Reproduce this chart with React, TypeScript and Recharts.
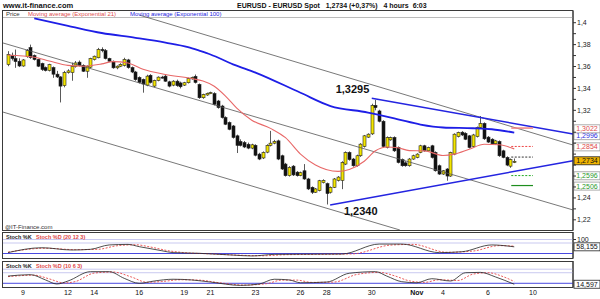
import React from 'react'
import {
  Bar,
  ComposedChart,
  Line,
  ReferenceDot,
  ReferenceLine,
  XAxis,
  YAxis,
} from 'recharts'

const FONT = '"Liberation Sans", Arial, Helvetica, sans-serif'
const FIRST = 2
const X_DOMAIN = [2 / 3, 152 + 2 / 3]

// 4h candles, index 2 = first candle (Oct 8 evening)
const opens = [
  1.3618, 1.3703, 1.3673, 1.3648, 1.3605, 1.369, 1.3773, 1.37, 1.3664, 1.3627,
  1.359, 1.3564, 1.359, 1.353, 1.3505, 1.3425, 1.3545, 1.3545, 1.36, 1.364,
  1.361, 1.3557, 1.3594, 1.3664, 1.368, 1.3755, 1.3745, 1.3673, 1.3648, 1.3588,
  1.3603, 1.361, 1.366, 1.359, 1.355, 1.35, 1.3482, 1.343, 1.352, 1.3421,
  1.3473, 1.3503, 1.3512, 1.346, 1.343, 1.3466, 1.345, 1.343, 1.3452, 1.3487,
  1.351, 1.3436, 1.3315, 1.334, 1.3355, 1.3352, 1.3285, 1.3239, 1.3134, 1.3088,
  1.3057, 1.2967, 1.2915, 1.2905, 1.289, 1.2855, 1.288, 1.28, 1.2765, 1.2818,
  1.288, 1.29, 1.2921, 1.2785, 1.2709, 1.2603, 1.269, 1.2635, 1.2605, 1.2648,
  1.2573, 1.2497, 1.2452, 1.2467, 1.254, 1.253, 1.2452, 1.2497, 1.256, 1.256,
  1.2709, 1.2815, 1.2755, 1.2694, 1.2785, 1.287, 1.2955, 1.2985, 1.3245, 1.3194,
  1.31, 1.2861, 1.293, 1.2952, 1.2861, 1.275, 1.272, 1.2694, 1.2755, 1.277,
  1.2815, 1.2876, 1.283, 1.2876, 1.2815, 1.2694, 1.2618, 1.2664, 1.26, 1.28,
  1.296, 1.3, 1.299, 1.2967, 1.287, 1.296, 1.3043, 1.308, 1.2955, 1.2936,
  1.2895, 1.2915, 1.283, 1.277, 1.269, 1.2725,
]
const highs = [
  1.374, 1.3727, 1.3755, 1.3675, 1.3668, 1.376, 1.38, 1.371, 1.367, 1.3635,
  1.36, 1.3625, 1.36, 1.356, 1.3512, 1.356, 1.3575, 1.3636, 1.365, 1.3655,
  1.362, 1.361, 1.368, 1.37, 1.377, 1.3775, 1.376, 1.368, 1.3655, 1.361,
  1.363, 1.368, 1.367, 1.36, 1.356, 1.351, 1.349, 1.3525, 1.353, 1.348,
  1.351, 1.3515, 1.3525, 1.347, 1.3475, 1.348, 1.3462, 1.346, 1.3498, 1.3508,
  1.3527, 1.3445, 1.3352, 1.3362, 1.337, 1.3365, 1.3295, 1.325, 1.3145, 1.3098,
  1.3066, 1.2978, 1.2935, 1.292, 1.2905, 1.2895, 1.289, 1.2812, 1.2825, 1.289,
  1.3012, 1.293, 1.2932, 1.2795, 1.272, 1.269, 1.27, 1.2645, 1.264, 1.2709,
  1.2583, 1.2505, 1.249, 1.2565, 1.257, 1.254, 1.2505, 1.2582, 1.26, 1.2735,
  1.2825, 1.2825, 1.2765, 1.2795, 1.29, 1.2975, 1.299, 1.326, 1.3295, 1.3205,
  1.311, 1.2962, 1.296, 1.2962, 1.287, 1.276, 1.2735, 1.2765, 1.2795, 1.2808,
  1.2885, 1.2885, 1.2868, 1.2885, 1.2825, 1.2705, 1.2655, 1.2672, 1.2822, 1.299,
  1.3005, 1.301, 1.3, 1.2975, 1.2985, 1.3052, 1.3148, 1.309, 1.2965, 1.2945,
  1.293, 1.2925, 1.284, 1.278, 1.276, 1.276,
]
const lows = [
  1.3603, 1.3655, 1.3588, 1.3595, 1.3598, 1.368, 1.367, 1.3655, 1.3595, 1.356,
  1.3555, 1.3555, 1.3497, 1.3495, 1.3272, 1.341, 1.3535, 1.347, 1.359, 1.36,
  1.355, 1.3497, 1.3585, 1.3655, 1.3675, 1.373, 1.3665, 1.364, 1.358, 1.3575,
  1.3595, 1.36, 1.358, 1.354, 1.347, 1.3445, 1.3361, 1.342, 1.3445, 1.341,
  1.3465, 1.349, 1.346, 1.341, 1.342, 1.3415, 1.34, 1.3422, 1.3445, 1.348,
  1.3445, 1.3305, 1.3305, 1.3332, 1.3348, 1.3245, 1.3215, 1.3125, 1.3065, 1.3018,
  1.2942, 1.281, 1.287, 1.2855, 1.2845, 1.2845, 1.278, 1.2745, 1.2755, 1.2808,
  1.287, 1.289, 1.2745, 1.2655, 1.2595, 1.2595, 1.26, 1.2595, 1.2598, 1.2565,
  1.2472, 1.2436, 1.2445, 1.246, 1.2532, 1.234, 1.244, 1.249, 1.255, 1.248,
  1.27, 1.274, 1.2685, 1.2685, 1.2775, 1.286, 1.2948, 1.2975, 1.32, 1.309,
  1.286, 1.2852, 1.2922, 1.282, 1.2715, 1.2685, 1.2685, 1.2685, 1.2748, 1.2762,
  1.2808, 1.2822, 1.2822, 1.276, 1.264, 1.261, 1.261, 1.2557, 1.2592, 1.279,
  1.2952, 1.2965, 1.2928, 1.2852, 1.2862, 1.2952, 1.3035, 1.293, 1.2902, 1.2888,
  1.2888, 1.2775, 1.2762, 1.269, 1.2675, 1.2718,
]
const closes = [
  1.3709, 1.3673, 1.3645, 1.3605, 1.366, 1.3745, 1.3682, 1.3664, 1.3603, 1.3573,
  1.3564, 1.3618, 1.353, 1.3505, 1.3421, 1.3545, 1.356, 1.36, 1.3633, 1.361,
  1.3557, 1.3603, 1.3673, 1.3694, 1.3755, 1.3745, 1.3673, 1.3648, 1.3588, 1.3603,
  1.362, 1.3664, 1.359, 1.355, 1.348, 1.3455, 1.344, 1.3512, 1.3455, 1.3473,
  1.3503, 1.3497, 1.3466, 1.3421, 1.3466, 1.3425, 1.3415, 1.3452, 1.349, 1.35,
  1.3455, 1.3315, 1.3345, 1.3355, 1.3361, 1.3255, 1.3225, 1.3134, 1.3073, 1.3027,
  1.2952, 1.288, 1.288, 1.2865, 1.2855, 1.2885, 1.279, 1.2755, 1.2815, 1.288,
  1.29, 1.2915, 1.2755, 1.2664, 1.2603, 1.2679, 1.261, 1.2603, 1.263, 1.2573,
  1.2482, 1.2452, 1.2482, 1.2557, 1.256, 1.244, 1.2497, 1.2573, 1.259, 1.2725,
  1.2815, 1.275, 1.2694, 1.2785, 1.2891, 1.2967, 1.2982, 1.3245, 1.3225, 1.31,
  1.287, 1.2952, 1.295, 1.283, 1.2724, 1.2694, 1.2694, 1.2755, 1.2785, 1.28,
  1.2876, 1.283, 1.286, 1.277, 1.2648, 1.2618, 1.2648, 1.26, 1.2815, 1.2982,
  1.2997, 1.2975, 1.2936, 1.2861, 1.2975, 1.3043, 1.308, 1.294, 1.291, 1.2895,
  1.2921, 1.2785, 1.277, 1.27, 1.275, 1.2734,
]

// moving averages, read at sample candles
const ema21At = [2, 9, 13, 18, 22, 27, 30, 34, 38, 44, 51, 54, 57, 60, 63, 67, 72, 76, 80, 84, 90, 93, 97, 100, 103, 106, 109, 113, 118, 121, 125, 129, 133, 137]
const ema21 = [1.3703, 1.3685, 1.365, 1.361, 1.3603, 1.3624, 1.3645, 1.3632, 1.3575, 1.3527, 1.349, 1.3467, 1.342, 1.333, 1.322, 1.311, 1.3035, 1.295, 1.28, 1.27, 1.2642, 1.266, 1.2735, 1.283, 1.2865, 1.2858, 1.2832, 1.283, 1.2788, 1.28, 1.2845, 1.289, 1.2885, 1.2848]
const ema100At = [9, 18, 27, 36, 44, 50, 53, 56, 62, 68, 80, 88, 98, 100, 106, 112, 118, 126, 131, 137]
const ema100 = [1.404, 1.3972, 1.3906, 1.3862, 1.3818, 1.3777, 1.3745, 1.371, 1.362, 1.3545, 1.336, 1.3239, 1.318, 1.3165, 1.3118, 1.307, 1.3043, 1.3036, 1.3027, 1.2997]

// stochastics (20 12 3) and (10 6 3)
const k1At = [2, 11, 19, 24, 29, 34, 37, 43, 46, 53, 62, 67, 73, 80, 91, 101, 107, 117, 123, 131, 137]
const k1 = [25, 53, 40, 44, 69, 72, 59, 36, 25, 21, 11, 6, 15, 16, 17, 74, 74, 25, 30, 69, 58.155]
const d1At = [2, 12, 20, 26, 31, 36, 40, 45, 49, 56, 64, 70, 76, 84, 94, 104, 110, 119, 126, 133, 137]
const d1 = [28, 50, 42, 44, 64, 70, 57, 35, 25, 18, 10, 7, 13, 15, 18, 68, 72, 27, 34, 65, 62]
const k2At = [2, 8, 12, 15, 18, 24, 29, 33, 37, 41, 46, 51, 56, 64, 69, 73, 77, 80, 87, 93, 100, 103, 107, 111, 115, 120, 124, 128, 132, 137]
const k2 = [61, 69, 39, 16, 33, 86, 86, 48, 20, 33, 43, 39, 27, 8, 16, 43, 39, 23, 27, 77, 86, 61, 29, 23, 46, 33, 80, 82, 56, 14.597]
const d2At = [2, 9, 13, 17, 20, 25, 30, 35, 39, 43, 48, 53, 58, 65, 71, 75, 79, 83, 89, 95, 101, 105, 109, 113, 117, 122, 126, 130, 134, 137]
const d2 = [58, 66, 45, 22, 30, 78, 84, 55, 26, 30, 40, 38, 24, 10, 18, 38, 38, 25, 27, 70, 82, 63, 34, 25, 40, 36, 72, 80, 58, 30]

const dayTicks = [6, 18, 25, 37, 49, 56, 68, 80, 87, 99, 111, 118, 130, 142]
const dayLabels = ['9', '12', '14', '16', '19', '21', '23', '26', '28', '30', 'Nov', '4', '6', '10']

const priceTicks = [1.22, 1.23, 1.24, 1.25, 1.26, 1.27, 1.28, 1.29, 1.3, 1.31, 1.32, 1.33, 1.34, 1.35, 1.36, 1.37, 1.38, 1.39, 1.4]
const priceLabels = ['1,22', '1,24', '1,32', '1,34', '1,36', '1,38', '1,4']

// hand-drawn lines: [candle index, price]
const channelTop = [[37.2, 1.4068], [152.67, 1.2883]]
const channelMid = [[0.67, 1.3815], [152.67, 1.229]]
const channelLow = [[0.67, 1.3184], [106.5, 1.2107]]
const resistance = [[99, 1.331], [152.67, 1.2984]]
const support = [[87.9, 1.2335], [152.67, 1.274]]

const levelValues = [1.3038, 1.287, 1.2773, 1.2604, 1.2513]
const levelFrom = 136.2
const levelTo = 142

const boxValues = [1.2968, 1.3031, 1.2866, 1.2739, 1.2602, 1.2508]
const boxTexts = ['1,2996', '1,3022', '1,2854', '1,2734', '1,2596', '1,2506']
const boxLooks = [
  { color: '#2a2ae0', fill: '#fff', border: '#999' },
  { color: '#e04848', fill: '#fff', border: '#999' },
  { color: '#e04848', fill: '#fff', border: '#999' },
  { color: '#111', fill: '#f0b400', border: '#222' },
  { color: '#2a9a2a', fill: '#fff', border: '#999' },
  { color: '#2a9a2a', fill: '#fff', border: '#999' },
]

type Row = { i: number; o: number; h: number; l: number; c: number; [key: string]: number | undefined }

const rows: Row[] = opens.map((o, k) => ({ i: FIRST + k, o, h: highs[k], l: lows[k], c: closes[k] }))

function attach(key: string, at: number[], vals: number[]) {
  at.forEach((idx, n) => {
    rows[idx - FIRST][key] = vals[n]
  })
}
attach('ema21', ema21At, ema21)
attach('ema100', ema100At, ema100)
attach('k1', k1At, k1)
attach('d1', d1At, d1)
attach('k2', k2At, k2)
attach('d2', d2At, d2)

const seg = (pts: number[][]) => pts.map(([x, y]) => ({ x, y }))

function Candle(props: any) {
  const { x, y, width, height, payload } = props
  if (!payload || height == null || Number.isNaN(y)) return <g />
  const { o, h, l, c } = payload
  const top = Math.min(y, y + height)
  const span = Math.abs(height)
  const k = h > l ? span / (h - l) : 0
  const cx = Math.round(x + width / 2) + 0.5
  const bodyTop = top + (h - Math.max(o, c)) * k
  const bodyH = Math.max(1, Math.abs(c - o) * k)
  const up = c > o
  return (
    <g>
      <line x1={cx} x2={cx} y1={top} y2={top + span} stroke="#5a5a5a" strokeWidth={1} />
      <rect
        x={cx - 1.5}
        y={bodyTop}
        width={3}
        height={bodyH}
        fill={up ? '#f4e600' : '#111'}
        stroke="#222"
        strokeWidth={0.6}
      />
    </g>
  )
}

function AxisBox({ viewBox, text, color, fill, border }: any) {
  if (!viewBox) return null
  const x = viewBox.x + viewBox.width + 1
  const y = viewBox.y
  return (
    <g>
      <rect x={x} y={y - 4} width={26} height={8} fill={fill} stroke={border} strokeWidth={0.8} />
      <text x={x + 13} y={y + 2.6} textAnchor="middle" fontSize={7} fontFamily={FONT} fill={color}>
        {text}
      </text>
    </g>
  )
}

function DayTick({ x, y, payload }: any) {
  const label = dayLabels[dayTicks.indexOf(payload.value)] ?? ''
  return (
    <text
      x={x}
      y={y + 7.5}
      textAnchor="middle"
      fontSize={7}
      fontWeight={label === 'Nov' ? 'bold' : 'normal'}
      fontFamily={FONT}
      fill="#111"
    >
      {label}
    </text>
  )
}

const priceLabel = (v: number) => {
  const s = v.toFixed(2).replace(/0$/, '').replace('.', ',')
  return priceLabels.includes(s) ? s : ''
}

function StochPanel({
  kKey,
  dKey,
  domain,
  ticks,
  boxValue,
  boxText,
  height,
  days,
}: {
  kKey: string
  dKey: string
  domain: number[]
  ticks: number[]
  boxValue: number
  boxText: string
  height: number
  days?: boolean
}) {
  return (
    <ComposedChart width={600} height={height} data={rows} margin={{ top: 0, right: 0, bottom: 0, left: 3 }}>
      <XAxis
        type="number"
        dataKey="i"
        domain={X_DOMAIN}
        allowDataOverflow
        hide={!days}
        ticks={dayTicks}
        interval={0}
        height={12}
        tickSize={0}
        tickMargin={0}
        axisLine={false}
        tick={<DayTick />}
      />
      <YAxis
        orientation="right"
        width={27}
        domain={domain}
        allowDataOverflow
        ticks={ticks}
        tickSize={3}
        tickMargin={1}
        axisLine={{ stroke: '#333' }}
        tickLine={{ stroke: '#333' }}
        tick={{ fontSize: 7, fill: '#222', fontFamily: FONT }}
      />
      <ReferenceLine y={100} stroke="#c9c9f0" strokeWidth={1} />
      <ReferenceLine y={80} stroke="#c9c9f0" strokeWidth={1} />
      <ReferenceLine y={20} stroke="#4848e0" strokeWidth={1} />
      <Line
        dataKey={dKey}
        stroke="#e84848"
        strokeWidth={0.9}
        strokeDasharray="2 1.5"
        type="monotone"
        dot={false}
        connectNulls
        isAnimationActive={false}
      />
      <Line
        dataKey={kKey}
        stroke="#222"
        strokeWidth={0.8}
        type="monotone"
        dot={false}
        connectNulls
        isAnimationActive={false}
      />
      <ReferenceLine
        y={boxValue}
        strokeOpacity={0}
        label={(p: any) => <AxisBox viewBox={p.viewBox} text={boxText} color="#111" fill="#fff" border="#222" />}
      />
    </ComposedChart>
  )
}

export default function App() {
  return (
    <div
      style={{
        position: 'fixed',
        left: 0,
        top: 0,
        width: 600,
        height: 299,
        background: '#fff',
        fontFamily: FONT,
        overflow: 'hidden',
      }}
    >
      <svg width={600} height={299} style={{ position: 'absolute', left: 0, top: 0 }}>
        <rect x={2.5} y={10.5} width={570.5} height={220} fill="none" stroke="#3a3a3a" />
        <line x1={3} x2={573} y1={17.5} y2={17.5} stroke="#bbb" />
        <rect x={2.5} y={232.5} width={570.5} height={26} fill="none" stroke="#3a3a3a" />
        <rect x={2.5} y={261.5} width={570.5} height={26} fill="none" stroke="#3a3a3a" />
      </svg>

      <div style={{ position: 'absolute', left: 0, top: 11 }}>
        <ComposedChart width={600} height={219} data={rows} margin={{ top: 0, right: 0, bottom: 0, left: 3 }}>
          <XAxis type="number" dataKey="i" domain={X_DOMAIN} allowDataOverflow hide />
          <YAxis
            orientation="right"
            width={27}
            domain={[1.2107, 1.4107]}
            allowDataOverflow
            ticks={priceTicks}
            interval={0}
            tickFormatter={priceLabel}
            tickSize={3}
            tickMargin={1}
            axisLine={{ stroke: '#333' }}
            tickLine={{ stroke: '#333' }}
            tick={{ fontSize: 7, fill: '#222', fontFamily: FONT }}
          />
          <ReferenceLine segment={seg(channelTop)} stroke="#555" strokeWidth={0.8} ifOverflow="visible" />
          <ReferenceLine segment={seg(channelMid)} stroke="#555" strokeWidth={0.8} ifOverflow="visible" />
          <ReferenceLine segment={seg(channelLow)} stroke="#555" strokeWidth={0.8} ifOverflow="visible" />
          <Line
            dataKey="ema100"
            stroke="#1e1ee6"
            strokeWidth={1.8}
            type="monotone"
            dot={false}
            connectNulls
            isAnimationActive={false}
          />
          <Bar
            dataKey={(d: Row) => [d.l, d.h]}
            barSize={4}
            shape={(p: any) => <Candle {...p} />}
            isAnimationActive={false}
          />
          <Line
            dataKey="ema21"
            stroke="#e86868"
            strokeWidth={1.1}
            type="monotone"
            dot={false}
            connectNulls
            isAnimationActive={false}
          />
          <ReferenceLine segment={seg(resistance)} stroke="#2424e0" strokeWidth={1.6} ifOverflow="visible" />
          <ReferenceLine segment={seg(support)} stroke="#2424e0" strokeWidth={1.6} ifOverflow="visible" />

          <ReferenceLine
            segment={[{ x: levelFrom, y: levelValues[0] }, { x: levelTo, y: levelValues[0] }]}
            stroke="#f08080"
            strokeWidth={1.5}
          />
          <ReferenceLine
            segment={[{ x: levelFrom, y: levelValues[1] }, { x: levelTo, y: levelValues[1] }]}
            stroke="#ee4444"
            strokeWidth={1}
            strokeDasharray="2 1.5"
          />
          <ReferenceLine
            segment={[{ x: levelFrom, y: levelValues[2] }, { x: levelTo, y: levelValues[2] }]}
            stroke="#333"
            strokeWidth={1}
            strokeDasharray="2 1.5"
          />
          <ReferenceLine
            segment={[{ x: levelFrom, y: levelValues[3] }, { x: levelTo, y: levelValues[3] }]}
            stroke="#22aa22"
            strokeWidth={1}
            strokeDasharray="2 1.5"
          />
          <ReferenceLine
            segment={[{ x: levelFrom, y: levelValues[4] }, { x: levelTo, y: levelValues[4] }]}
            stroke="#1e8e1e"
            strokeWidth={1.2}
          />

          {boxValues.map((v, n) => (
            <ReferenceLine
              key={n}
              y={v}
              strokeOpacity={0}
              label={(p: any) => <AxisBox viewBox={p.viewBox} text={boxTexts[n]} {...boxLooks[n]} />}
            />
          ))}

          <ReferenceDot
            x={100}
            y={1.3295}
            r={0}
            fill="none"
            stroke="none"
            label={(p: any) => (
              <text
                x={p.viewBox.x - 23}
                y={p.viewBox.y - 6.5}
                textAnchor="middle"
                fontSize={11}
                fontWeight="bold"
                fontFamily={FONT}
                fill="#111"
              >
                1,3295
              </text>
            )}
          />
          <ReferenceDot
            x={87}
            y={1.234}
            r={0}
            fill="none"
            stroke="none"
            label={(p: any) => (
              <text
                x={p.viewBox.x + 34}
                y={p.viewBox.y + 10.5}
                textAnchor="middle"
                fontSize={11}
                fontWeight="bold"
                fontFamily={FONT}
                fill="#111"
              >
                1,2340
              </text>
            )}
          />
        </ComposedChart>
      </div>

      <div style={{ position: 'absolute', left: 0, top: 232 }}>
        <StochPanel
          kKey="k1"
          dKey="d1"
          domain={[-5.7, 142.9]}
          ticks={[0, 100]}
          boxValue={58.155}
          boxText="58,155"
          height={26}
        />
      </div>
      <div style={{ position: 'absolute', left: 0, top: 261 }}>
        <StochPanel
          kKey="k2"
          dKey="d2"
          domain={[-1.1, 146.6]}
          ticks={[100]}
          boxValue={14.597}
          boxText="14,597"
          height={38}
          days
        />
      </div>

      <svg width={600} height={299} style={{ position: 'absolute', left: 0, top: 0, pointerEvents: 'none' }}>
        <g fontFamily={FONT}>
          <text x={3} y={8} fontSize={7.5} fontWeight="bold" fill="#111">
            www.it-finance.com
          </text>
          <text x={237} y={8} fontSize={7} fontWeight="bold" fill="#111" xmlSpace="preserve">
            EURUSD - EURUSD Spot   1,2734 (+0,37%)   4 hours  6:03
          </text>
          <text x={6} y={16} fontSize={6} fill="#333">
            Price
          </text>
          <text x={28} y={16} fontSize={6} fill="#e05050">
            Moving average (Exponential 21)
          </text>
          <text x={130} y={16} fontSize={6} fill="#2424e0">
            Moving average (Exponential 100)
          </text>
          <text x={5} y={228.5} fontSize={6} fill="#333">
            @IT-Finance.com
          </text>
          <text x={6} y={238.5} fontSize={5.5} fontWeight="bold" fill="#222">
            Stoch %K
          </text>
          <text x={36} y={238.5} fontSize={5.5} fontWeight="bold" fill="#e04848">
            Stoch %D (20 12 3)
          </text>
          <text x={6} y={267.5} fontSize={5.5} fontWeight="bold" fill="#222">
            Stoch %K
          </text>
          <text x={36} y={267.5} fontSize={5.5} fontWeight="bold" fill="#e04848">
            Stoch %D (10 6 3)
          </text>
        </g>
      </svg>
    </div>
  )
}
